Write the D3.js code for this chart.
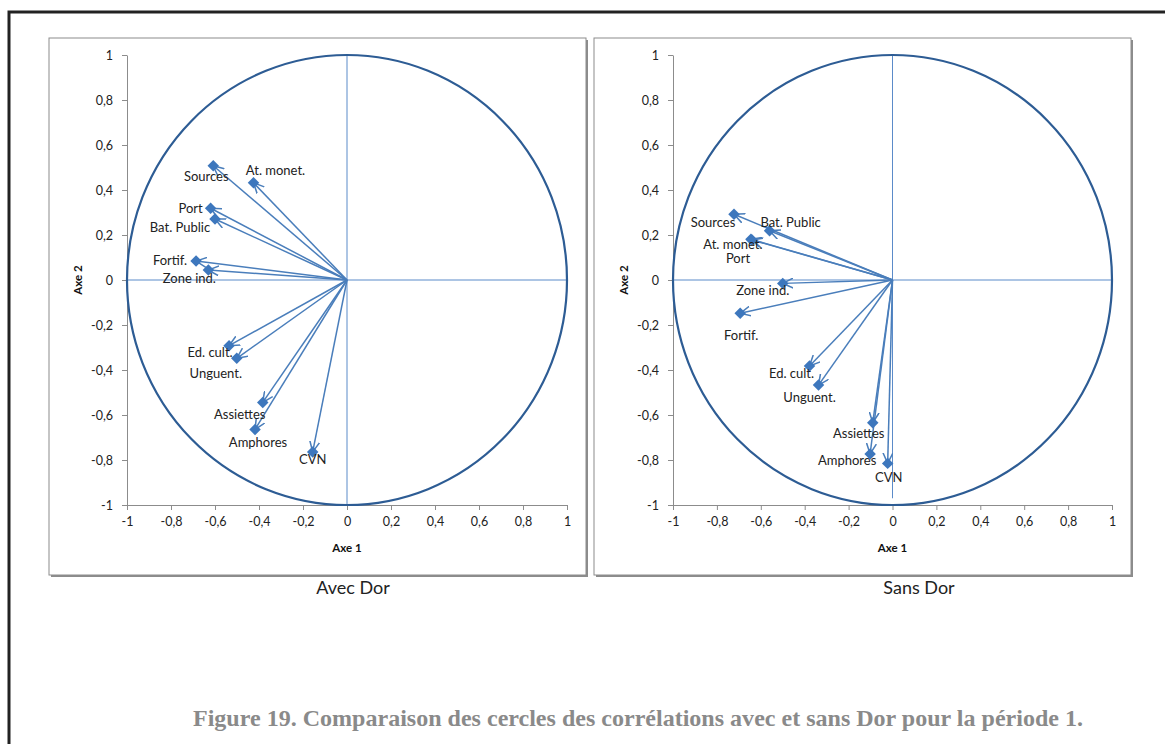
<!DOCTYPE html>
<html>
<head>
<meta charset="utf-8">
<title>Cercles des corrélations</title>
<script src="https://cdn.jsdelivr.net/npm/d3@7"></script>
<style>
  body { margin: 0; background: #fff; }
  svg { display: block; }
  .tick text { font-family: Lato, "Open Sans", sans-serif; font-size: 12.5px; fill: #222; }
  .tick line, .domain { stroke: #8c8c8c; }
  .lbl { font-family: Lato, "Open Sans", sans-serif; font-size: 13px; fill: #222; }
  .axtitle { font-family: Lato, "Open Sans", sans-serif; font-size: 11.5px; font-weight: bold; fill: #111; }
  .cap { font-family: Lato, "Open Sans", sans-serif; font-size: 18px; fill: #222; }
  .fig { font-family: "Liberation Serif", "Times New Roman", serif; font-size: 24px; font-weight: bold; fill: #8a8a8a; }
</style>
</head>
<body>
<script>
// variables (same order in both panels)
const variables = ['Sources', 'At. monet.', 'Port', 'Bat. Public', 'Fortif.', 'Zone ind.',
                   'Ed. cult.', 'Unguent.', 'Assiettes', 'Amphores', 'CVN'];

// avec Dor
const avecAxe1 = [-0.608, -0.425, -0.620, -0.600, -0.686, -0.630, -0.536, -0.501, -0.383, -0.418, -0.156];
const avecAxe2 = [ 0.508,  0.432,  0.319,  0.271,  0.084,  0.044, -0.292, -0.348, -0.544, -0.664, -0.764];

// sans Dor
const sansAxe1 = [-0.722, -0.645, -0.640, -0.560, -0.694, -0.500, -0.378, -0.337, -0.090, -0.102, -0.022];
const sansAxe2 = [ 0.292,  0.181,  0.178,  0.219, -0.148, -0.015, -0.382, -0.467, -0.634, -0.773, -0.815];

const tickValues = [-1, -0.8, -0.6, -0.4, -0.2, 0, 0.2, 0.4, 0.6, 0.8, 1];
const tickLabels = ['-1', '-0,8', '-0,6', '-0,4', '-0,2', '0', '0,2', '0,4', '0,6', '0,8', '1'];

// data label offsets (px, centre of text relative to the marker)
const avecLabelOffsets = [[-7, 11], [22, -12], [-20, 0], [-35, 8], [-26, -1], [-19, 8],
                          [-19, 7], [-21, 15], [-23, 12], [3, 13], [0, 8]];
const sansLabelOffsets = [[-21, 8], [-18, 5], [-14, 18], [21, -8], [1, 22], [-20, 7],
                          [-18, 7], [-9, 12], [-14, 11], [-23, 7], [1, 14]];

const W = 1165, H = 744;
const svg = d3.select('body').append('svg').attr('width', W).attr('height', H);

// outer frame of the page
svg.append('rect')
    .attr('x', 9).attr('y', 12).attr('width', 1200).attr('height', 800)
    .attr('fill', 'none').attr('stroke', '#222').attr('stroke-width', 3);

const arrowColor = '#4a7ebb';
svg.append('defs').append('marker')
    .attr('id', 'arr')
    .attr('viewBox', '0 0 10 10')
    .attr('refX', 9.5).attr('refY', 5)
    .attr('markerUnits', 'userSpaceOnUse')
    .attr('markerWidth', 11).attr('markerHeight', 11)
    .attr('orient', 'auto')
  .append('path')
    .attr('d', 'M0,0.5 L9.5,5 L0,9.5')
    .attr('fill', 'none')
    .attr('stroke', arrowColor)
    .attr('stroke-width', 1.4);

function drawPanel(opt) {
  const g = svg.append('g');

  // chart box with a small shadow
  g.append('rect')
      .attr('x', opt.box[0] + 2).attr('y', opt.box[1] + 2)
      .attr('width', opt.box[2]).attr('height', opt.box[3])
      .attr('fill', '#8c8c8c');
  g.append('rect')
      .attr('x', opt.box[0]).attr('y', opt.box[1])
      .attr('width', opt.box[2]).attr('height', opt.box[3])
      .attr('fill', '#fff').attr('stroke', '#8c8c8c').attr('stroke-width', 1);

  const x = d3.scaleLinear().domain([-1, 1]).range(opt.xRange);
  const y = d3.scaleLinear().domain([-1, 1]).range(opt.yRange);

  g.append('g')
      .attr('transform', 'translate(' + x(-1) + ',0)')
      .call(d3.axisLeft(y).tickValues(tickValues)
        .tickFormat((d, i) => tickLabels[i]).tickSize(5).tickSizeOuter(0).tickPadding(9));

  g.append('g')
      .attr('transform', 'translate(0,' + y(-1) + ')')
      .call(d3.axisBottom(x).tickValues(tickValues)
        .tickFormat((d, i) => tickLabels[i]).tickSize(5).tickSizeOuter(0).tickPadding(7));

  // centre cross
  g.append('line')
      .attr('x1', x(-1)).attr('x2', x(1)).attr('y1', y(0)).attr('y2', y(0))
      .attr('stroke', '#5b8bc9').attr('stroke-width', 1);
  g.append('line')
      .attr('x1', x(0)).attr('x2', x(0)).attr('y1', y(1)).attr('y2', y(opt.vEnd))
      .attr('stroke', '#5b8bc9').attr('stroke-width', 1);

  // unit circle
  g.append('ellipse')
      .attr('cx', x(0)).attr('cy', y(0))
      .attr('rx', x(1) - x(0)).attr('ry', y(0) - y(1))
      .attr('fill', 'none').attr('stroke', '#2d5c94').attr('stroke-width', 2.2);

  const data = variables.map((v, i) => ({ name: v, a1: opt.axe1[i], a2: opt.axe2[i], off: opt.offsets[i] }));

  g.append('g').selectAll('line')
      .data(data)
    .enter().append('line')
      .attr('x1', x(0)).attr('y1', y(0))
      .attr('x2', d => x(d.a1)).attr('y2', d => y(d.a2))
      .attr('stroke', arrowColor).attr('stroke-width', 1.5)
      .attr('marker-end', 'url(#arr)');

  g.append('g').selectAll('path')
      .data(data)
    .enter().append('path')
      .attr('d', d3.symbol().type(d3.symbolSquare).size(66))
      .attr('transform', d => 'translate(' + x(d.a1) + ',' + y(d.a2) + ') rotate(45)')
      .attr('fill', '#3d77bd');

  g.append('g').selectAll('text')
      .data(data)
    .enter().append('text')
      .attr('class', 'lbl')
      .attr('x', d => x(d.a1) + d.off[0])
      .attr('y', d => y(d.a2) + d.off[1])
      .attr('dy', '0.35em')
      .attr('text-anchor', 'middle')
      .text(d => d.name);

  g.append('text')
      .attr('class', 'axtitle')
      .attr('x', x(0)).attr('y', y(-1) + 47)
      .attr('text-anchor', 'middle')
      .text('Axe 1');

  g.append('text')
      .attr('class', 'axtitle')
      .attr('transform', 'translate(' + (x(-1) - 45) + ',' + y(0) + ') rotate(-90)')
      .attr('text-anchor', 'middle')
      .text('Axe 2');

  g.append('text')
      .attr('class', 'cap')
      .attr('x', opt.capX).attr('y', 594)
      .attr('text-anchor', 'middle')
      .text(opt.caption);
}

drawPanel({
  box: [49, 38, 537, 537], xRange: [127, 567], yRange: [505, 55], vEnd: -1,
  axe1: avecAxe1, axe2: avecAxe2, offsets: avecLabelOffsets,
  caption: 'Avec Dor', capX: 353
});

drawPanel({
  box: [594, 38, 537, 537], xRange: [673, 1112], yRange: [505, 55], vEnd: -0.97,
  axe1: sansAxe1, axe2: sansAxe2, offsets: sansLabelOffsets,
  caption: 'Sans Dor', capX: 919
});

svg.append('text')
    .attr('class', 'fig')
    .attr('x', 193).attr('y', 726)
    .attr('textLength', 890)
    .attr('lengthAdjust', 'spacingAndGlyphs')
    .text('Figure 19. Comparaison des cercles des corrélations avec et sans Dor pour la période 1.');
</script>
</body>
</html>
